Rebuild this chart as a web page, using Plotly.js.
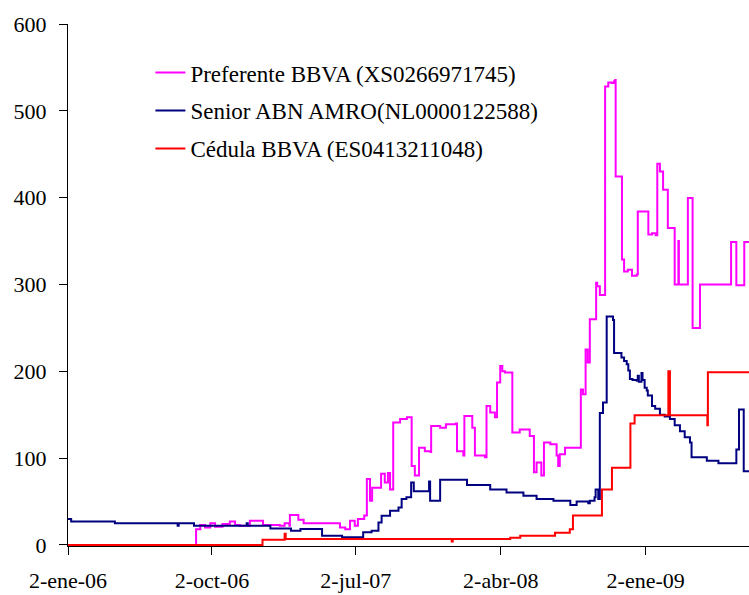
<!DOCTYPE html>
<html>
<head>
<meta charset="utf-8">
<script src="https://cdn.plot.ly/plotly-3.0.1.min.js"></script>
<style>html,body{margin:0;padding:0;background:#fff;}#chart{width:749px;height:595px;}</style>
</head>
<body>
<div id="chart"></div>
<script>
// Series names
const seriesNames = ["Preferente BBVA (XS0266971745)", "Senior ABN AMRO(NL0000122588)", "Cédula BBVA (ES0413211048)"];

// Preferente BBVA
const prefDates = ["2006-01-02","2006-09-01","2006-09-02","2006-09-10","2006-09-19","2006-09-29","2006-10-08","2006-10-22","2006-11-05","2006-11-15","2006-11-24","2006-12-13","2007-01-05","2007-01-07","2007-02-08","2007-02-17","2007-02-26","2007-02-27","2007-03-14","2007-03-15","2007-03-24","2007-03-25","2007-05-14","2007-06-02","2007-06-12","2007-06-21","2007-06-30","2007-07-06","2007-07-18","2007-07-23","2007-07-29","2007-08-02","2007-08-17","2007-08-19","2007-08-26","2007-09-01","2007-09-05","2007-09-11","2007-09-24","2007-10-07","2007-10-15","2007-10-16","2007-10-22","2007-10-30","2007-11-10","2007-11-21","2007-11-22","2007-12-09","2007-12-20","2008-01-08","2008-01-10","2008-01-22","2008-01-24","2008-02-04","2008-02-08","2008-02-13","2008-03-03","2008-03-06","2008-03-13","2008-03-22","2008-03-26","2008-04-01","2008-04-05","2008-04-10","2008-04-23","2008-04-24","2008-05-08","2008-05-27","2008-06-04","2008-06-09","2008-06-15","2008-06-18","2008-06-23","2008-07-05","2008-07-14","2008-07-17","2008-07-20","2008-07-23","2008-08-02","2008-08-30","2008-09-01","2008-09-05","2008-09-10","2008-09-14","2008-09-18","2008-09-28","2008-09-30","2008-10-02","2008-10-07","2008-10-17","2008-10-23","2008-10-30","2008-11-03","2008-11-05","2008-11-06","2008-11-17","2008-11-18","2008-11-22","2008-11-29","2008-12-07","2008-12-16","2008-12-18","2009-01-03","2009-01-07","2009-01-14","2009-01-21","2009-01-24","2009-01-29","2009-02-04","2009-02-12","2009-02-13","2009-02-23","2009-02-26","2009-03-02","2009-03-05","2009-03-06","2009-03-21","2009-03-23","2009-03-31","2009-04-01","2009-04-14","2009-04-15","2009-06-11","2009-06-13","2009-06-22","2009-06-23","2009-07-06","2009-07-08","2009-07-17"];
const prefVals = [0,0,18,23,20,25,21,24,27,23,22,28,28,23,22,25,22,34.5,34.5,29,29,25,25,20,18,28,22,30,34,76,51,66,66,82,72,83,64,141,145,147,147,91,80,112,108,107,137,135,139,140,108,103,148.6,148.6,135,103,101,160,152.5,147,187,206,200,198.5,198.5,129.5,133,125.6,83.6,95,95,80,118,116,116,103,91,104.6,112,112,179,173.6,225,210,260,260,302,298,288,528,532.5,532,534,535.6,424.5,424.5,328.7,315,317,310,311.5,384,384,357.5,359,356.7,439,430,409,409,365,365,300,300,350,300,300,399.6,399.6,250,250,300,300,349,349,299,299,349,349];

// Senior ABN AMRO
const seniorDates = ["2006-01-02","2006-01-08","2006-03-28","2006-04-01","2006-07-28","2006-07-29","2006-07-31","2006-08-27","2006-08-29","2006-12-06","2006-12-07","2006-12-09","2007-01-20","2007-01-21","2007-02-28","2007-03-01","2007-03-18","2007-03-19","2007-04-28","2007-04-29","2007-06-05","2007-06-06","2007-07-10","2007-07-13","2007-07-16","2007-08-01","2007-08-14","2007-08-20","2007-09-05","2007-09-21","2007-09-27","2007-10-06","2007-10-15","2007-10-20","2007-11-17","2007-11-18","2007-11-20","2007-12-08","2007-12-09","2008-01-29","2008-03-13","2008-04-13","2008-05-15","2008-06-09","2008-07-11","2008-08-12","2008-08-24","2008-09-15","2008-09-18","2008-09-27","2008-09-29","2008-10-04","2008-10-07","2008-10-13","2008-10-20","2008-11-01","2008-11-03","2008-11-17","2008-11-22","2008-11-27","2008-11-30","2008-12-03","2008-12-08","2008-12-16","2008-12-18","2008-12-20","2008-12-25","2008-12-27","2008-12-31","2009-01-04","2009-01-06","2009-01-14","2009-01-20","2009-01-29","2009-02-07","2009-02-17","2009-02-26","2009-03-08","2009-03-17","2009-03-27","2009-03-30","2009-04-28","2009-05-20","2009-06-14","2009-06-23","2009-06-28","2009-07-06","2009-07-07","2009-07-17"];
const seniorVals = [30,27,27,25,25,22,25,25,22,22,25,22,22,19,19,16.4,16.4,18.4,18.4,10.7,10.7,9,9,7,14.6,16.5,26,33.7,39.5,43,53,55,72,62,62,73,51,51,75,69,64,60.5,56.7,53,51,46,50,48,51,55,64,53,152,164,263,259,221,216,212,208,201,191,190,189,195,188,198,190,181,178,172,160,157,150,148,145,138,131,124,118,101,97,94,94,110,156,156,85,85];

// Cédula BBVA
const cedulaDates = ["2006-01-02","2007-01-05","2007-01-06","2007-02-16","2007-02-17","2007-02-19","2007-12-30","2007-12-31","2008-01-02","2008-04-19","2008-04-20","2008-05-09","2008-07-14","2008-08-11","2008-08-17","2008-10-11","2008-10-30","2008-12-04","2008-12-12","2009-02-13","2009-02-14","2009-02-16","2009-02-17","2009-04-28","2009-04-29","2009-04-30","2009-07-17"];
const cedulaVals = [0,0,6,6,13,7,7,4,7,7,8.4,10.7,14,18,34,64,89,140,149.4,149.4,200,200,149.4,149.4,138,199,199];

// Axis ticks
const xTickDates = ["2006-01-02","2006-10-02","2007-07-02","2008-04-02","2009-01-02"];
const xTickLabels = ["2-ene-06","2-oct-06","2-jul-07","2-abr-08","2-ene-09"];
const yTickVals = [0,100,200,300,400,500,600];

const FONT = "Liberation Serif, 'DejaVu Serif', serif";

const traces = [
  {x: prefDates, y: prefVals, name: seriesNames[0], legendgroup: "a", line: {color: "#FF00FF", width: 2, shape: "hv"}},
  {x: seniorDates, y: seniorVals, name: seriesNames[1], legendgroup: "b", line: {color: "#000080", width: 2, shape: "hv"}},
  {x: cedulaDates, y: cedulaVals, name: seriesNames[2], legendgroup: "c", line: {color: "#FF0000", width: 2, shape: "hv"}}
].map(t => Object.assign({type: "scatter", mode: "lines"}, t));

const layout = {
  width: 749, height: 595,
  margin: {l: 68, r: 0, t: 24, b: 49, pad: 0},
  paper_bgcolor: "#ffffff", plot_bgcolor: "#ffffff",
  font: {family: FONT, size: 22, color: "#000000"},
  showlegend: true,
  legend: {x: 0.121, y: 0.948, xanchor: "left", yanchor: "top", bgcolor: "rgba(0,0,0,0)",
           font: {family: FONT, size: 23, color: "#000"}, traceorder: "grouped", tracegroupgap: 5},
  xaxis: {type: "date", range: ["2006-01-02", "2009-07-17"], tickmode: "array", tickvals: xTickDates, ticktext: xTickLabels,
          showgrid: false, zeroline: false, showline: true, linecolor: "#000", linewidth: 1,
          ticks: "outside", ticklen: 8, tickcolor: "#000", ticklabelstandoff: 7, tickfont: {family: FONT, size: 22}},
  yaxis: {range: [-1.2, 600], tickmode: "array", tickvals: yTickVals, showgrid: false, zeroline: false,
          showline: true, linecolor: "#000", linewidth: 1, ticks: "outside", ticklen: 8, tickcolor: "#000",
          ticklabelstandoff: 8, tickfont: {family: FONT, size: 22}}
};

Plotly.newPlot("chart", traces, layout, {displayModeBar: false, staticPlot: true});
</script>
</body>
</html>
